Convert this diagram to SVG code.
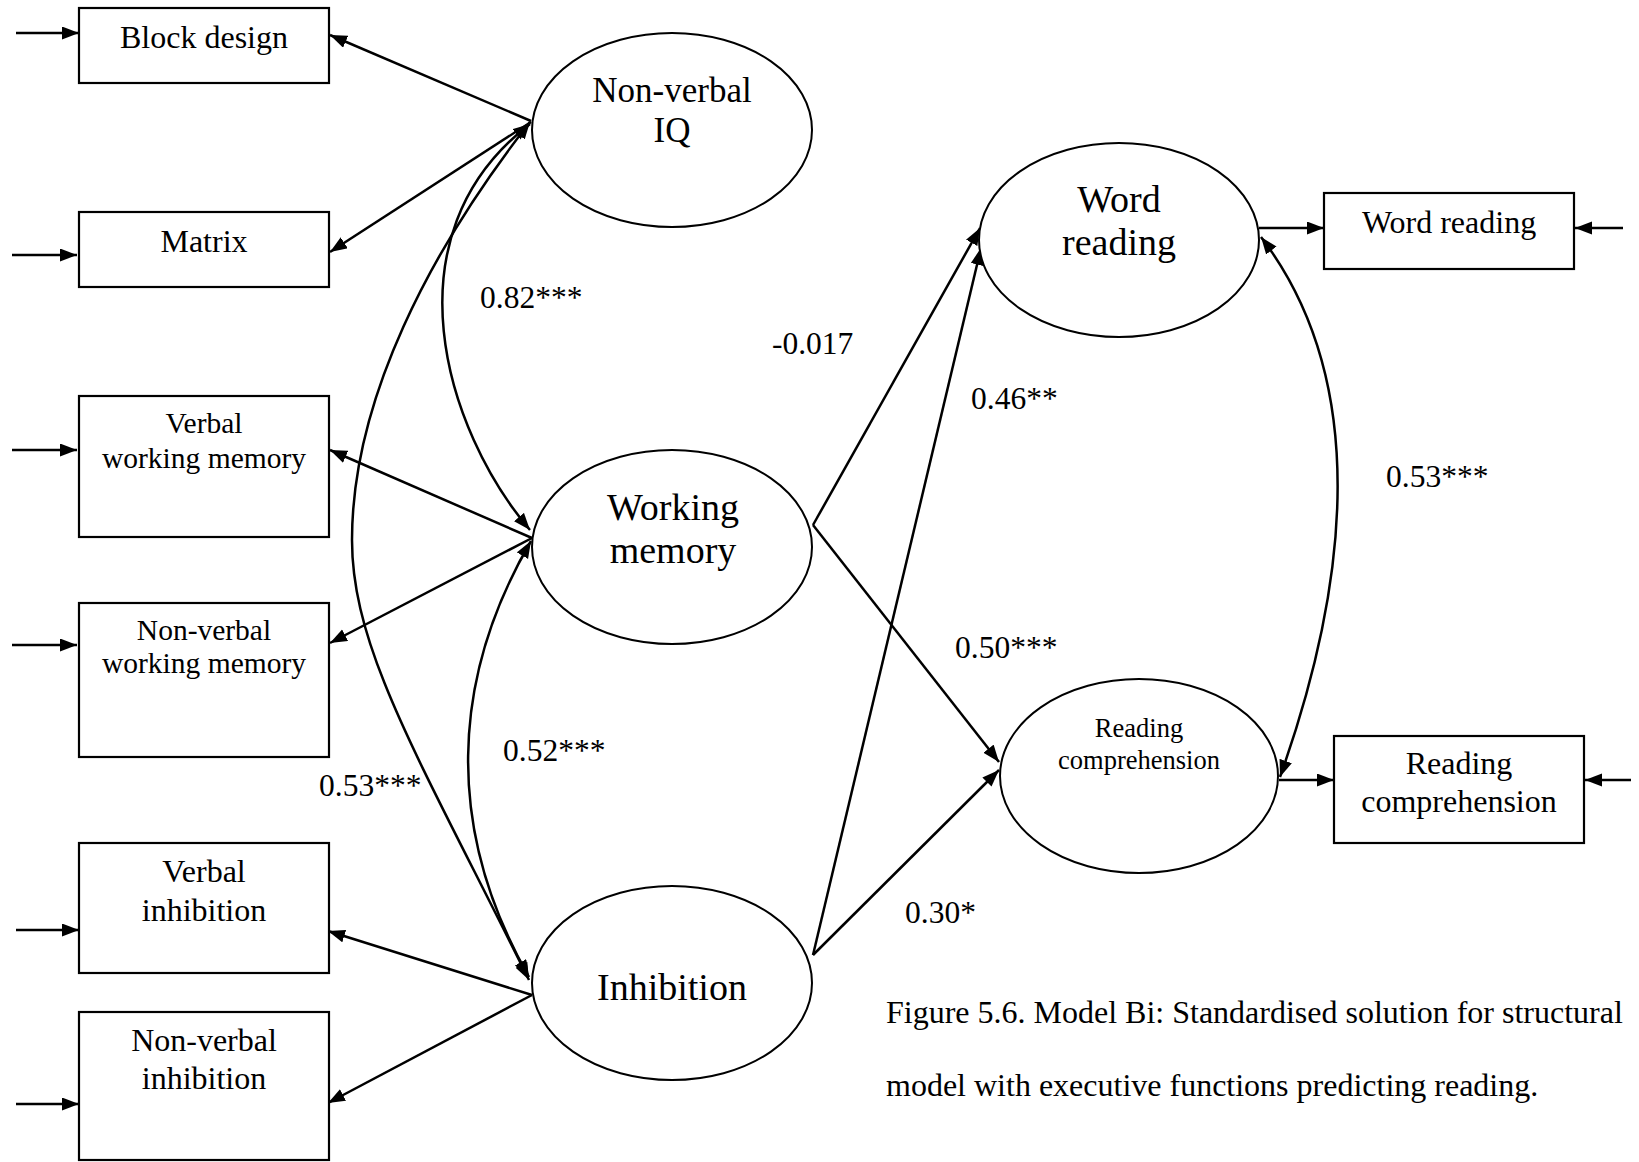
<svg xmlns="http://www.w3.org/2000/svg" width="1639" height="1162" viewBox="0 0 1639 1162">
  <style>
    text { font-family: "Liberation Serif", "Times New Roman", serif; fill: #000; }
    .c { text-anchor: middle; }
    .box { fill: #fff; stroke: #000; stroke-width: 2.2; }
    .lat { fill: #fff; stroke: #000; stroke-width: 2; }
    .edge { fill: none; stroke: #000; stroke-width: 2.5; }
    .one { marker-end: url(#head); }
    .two { marker-start: url(#head); marker-end: url(#head); }
    .lbl { font-size: 31.5px; }
  </style>
  <defs>
    <marker id="head" markerUnits="userSpaceOnUse" markerWidth="19" markerHeight="14" refX="17" refY="6.5" orient="auto-start-reverse">
      <path d="M0,0 L17,6.5 L0,13 Z" fill="#000"/>
    </marker>
  </defs>

  <!-- connectors -->
  <g id="connectors">
    <!-- error terms feeding the indicators -->
    <path class="edge one" d="M16,33 L79,33"/>
    <path class="edge one" d="M12,255 L77,255"/>
    <path class="edge one" d="M12,450 L77,450"/>
    <path class="edge one" d="M12,645 L77,645"/>
    <path class="edge one" d="M16,930 L79,930"/>
    <path class="edge one" d="M16,1104 L79,1104"/>
    <path class="edge one" d="M1623,228 L1575,228"/>
    <path class="edge one" d="M1631,780 L1585,780"/>

    <!-- loadings -->
    <path class="edge one" d="M531,121 L330,35"/>
    <path class="edge one" d="M531,122 L330,252"/>
    <path class="edge one" d="M532,538 L330,450"/>
    <path class="edge one" d="M532,538 L330,643"/>
    <path class="edge one" d="M532,995 L328,931"/>
    <path class="edge one" d="M532,995 L328,1103"/>
    <path class="edge one" d="M1259,228 L1324,228"/>
    <path class="edge one" d="M1279,780 L1334,780"/>

    <!-- correlations among predictors -->
    <path class="edge two" d="M530,124 C385,235 445,430 530,530"/>
    <path class="edge two" d="M530,122 C430,250 352,400 352,540 C352,650 420,760 529,980"/>
    <path class="edge two" d="M531,541 C450,680 445,830 529,977"/>

    <!-- structural paths -->
    <path class="edge one" d="M813,525 L980,228"/>
    <path class="edge one" d="M813,955 L981,248"/>
    <path class="edge one" d="M813,525 L999,762"/>
    <path class="edge one" d="M813,955 L999,770"/>

    <!-- residual correlation between outcomes -->
    <path class="edge two" d="M1261,237 C1370,380 1350,580 1280,777"/>
  </g>

  <!-- observed indicators -->
  <g id="block-design">
    <rect class="box" x="79" y="8" width="250" height="75"/>
    <text class="c" x="204" y="48" font-size="32">Block design</text>
  </g>
  <g id="matrix">
    <rect class="box" x="79" y="212" width="250" height="75"/>
    <text class="c" x="204" y="252" font-size="32">Matrix</text>
  </g>
  <g id="verbal-wm">
    <rect class="box" x="79" y="396" width="250" height="141"/>
    <text class="c" x="204" y="433" font-size="29.5">Verbal</text>
    <text class="c" x="204" y="468" font-size="29.5">working memory</text>
  </g>
  <g id="nonverbal-wm">
    <rect class="box" x="79" y="603" width="250" height="154"/>
    <text class="c" x="204" y="640" font-size="29.5">Non-verbal</text>
    <text class="c" x="204" y="673" font-size="29.5">working memory</text>
  </g>
  <g id="verbal-inhibition">
    <rect class="box" x="79" y="843" width="250" height="130"/>
    <text class="c" x="204" y="882" font-size="32">Verbal</text>
    <text class="c" x="204" y="921" font-size="32">inhibition</text>
  </g>
  <g id="nonverbal-inhibition">
    <rect class="box" x="79" y="1012" width="250" height="148"/>
    <text class="c" x="204" y="1051" font-size="32">Non-verbal</text>
    <text class="c" x="204" y="1089" font-size="32">inhibition</text>
  </g>
  <g id="word-reading-obs">
    <rect class="box" x="1324" y="193" width="250" height="76"/>
    <text class="c" x="1449" y="233" font-size="32">Word reading</text>
  </g>
  <g id="reading-comp-obs">
    <rect class="box" x="1334" y="736" width="250" height="107"/>
    <text class="c" x="1459" y="774" font-size="32">Reading</text>
    <text class="c" x="1459" y="812" font-size="32">comprehension</text>
  </g>

  <!-- latent variables -->
  <g id="nonverbal-iq">
    <ellipse class="lat" cx="672" cy="130" rx="140" ry="97"/>
    <text class="c" x="672" y="102" font-size="35">Non-verbal</text>
    <text class="c" x="672" y="142" font-size="35">IQ</text>
  </g>
  <g id="working-memory">
    <ellipse class="lat" cx="672" cy="547" rx="140" ry="97"/>
    <text class="c" x="673" y="520" font-size="38">Working</text>
    <text class="c" x="673" y="563" font-size="38">memory</text>
  </g>
  <g id="inhibition">
    <ellipse class="lat" cx="672" cy="983" rx="140" ry="97"/>
    <text class="c" x="672" y="1000" font-size="38">Inhibition</text>
  </g>
  <g id="word-reading">
    <ellipse class="lat" cx="1119" cy="240" rx="140" ry="97"/>
    <text class="c" x="1119" y="212" font-size="38">Word</text>
    <text class="c" x="1119" y="255" font-size="38">reading</text>
  </g>
  <g id="reading-comprehension">
    <ellipse class="lat" cx="1139" cy="776" rx="139" ry="97"/>
    <text class="c" x="1139" y="737" font-size="26.5">Reading</text>
    <text class="c" x="1139" y="769" font-size="26.5">comprehension</text>
  </g>

  <!-- coefficients -->
  <g id="labels">
    <text class="lbl" x="480" y="308">0.82***</text>
    <text class="lbl" x="772" y="354">-0.017</text>
    <text class="lbl" x="971" y="409">0.46**</text>
    <text class="lbl" x="1386" y="487">0.53***</text>
    <text class="lbl" x="955" y="658">0.50***</text>
    <text class="lbl" x="503" y="761">0.52***</text>
    <text class="lbl" x="319" y="796">0.53***</text>
    <text class="lbl" x="905" y="923">0.30*</text>
  </g>

  <!-- caption -->
  <g id="caption">
    <text x="886" y="1023" font-size="32">Figure 5.6. Model Bi: Standardised solution for structural</text>
    <text x="886" y="1096" font-size="32">model with executive functions predicting reading.</text>
  </g>
</svg>
